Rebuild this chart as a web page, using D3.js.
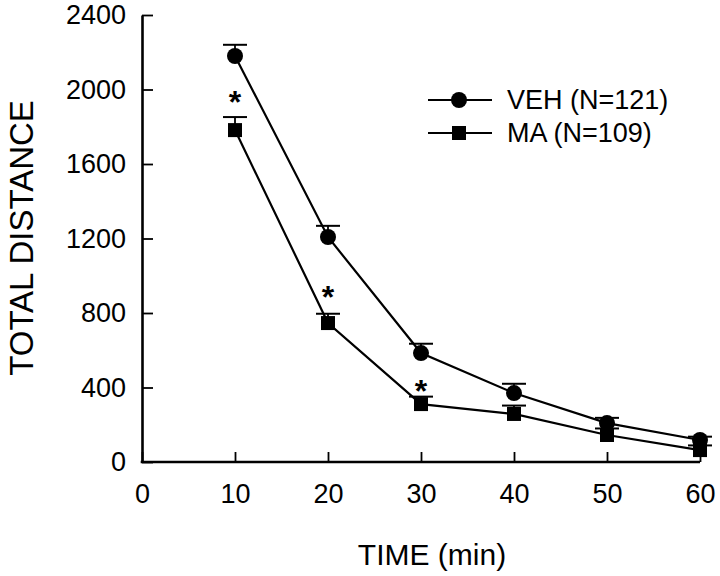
<!DOCTYPE html>
<html><head><meta charset="utf-8">
<script src="https://cdn.jsdelivr.net/npm/d3@7"></script>
<style>body{margin:0;background:#fff}</style>
</head><body>
<svg id="c" width="720" height="576"></svg>
<script>
const times = [10, 20, 30, 40, 50, 60];
const vehMean = [2180, 1208, 585, 370, 209, 118];
const vehSE   = [60, 60, 50, 50, 28, 18];
const maMean  = [1782, 746, 311, 258, 145, 64];
const maSE    = [70, 50, 40, 45, 35, 25];
const sigTimes = [10, 20, 30];
const sigY     = [1981, 934, 430];
const xTicks = [0, 10, 20, 30, 40, 50, 60];
const yTicks = [0, 400, 800, 1200, 1600, 2000, 2400];
const seriesNames = ["VEH (N=121)", "MA (N=109)"];

const svg = d3.select("#c");
const font = "'Liberation Sans', Arial, Helvetica, sans-serif";
const x = d3.scaleLinear().domain([0, 60]).range([142, 700]);
const y = d3.scaleLinear().domain([0, 2400]).range([462, 15]);

const xAxis = d3.axisBottom(x).tickValues(xTicks).tickFormat(d3.format("d")).tickSizeInner(-10).tickSizeOuter(0).tickPadding(22);
const yAxis = d3.axisLeft(y).tickValues(yTicks).tickFormat(d3.format("d")).tickSizeInner(-11).tickSizeOuter(0).tickPadding(20);
const gx = svg.append("g").attr("transform", `translate(0,${y(0)})`).call(xAxis);
const gy = svg.append("g").attr("transform", `translate(${x(0)},0)`).call(yAxis);
[gx, gy].forEach(g => {
  g.select(".domain").attr("stroke", "#000").attr("stroke-width", 2.6);
  g.selectAll(".tick line").attr("stroke", "#000").attr("stroke-width", 1.8);
  g.selectAll(".tick text").attr("fill", "#000").attr("font-family", font).attr("font-size", 27);
});
gy.selectAll(".tick text").attr("dx", "0.15em");
gx.select(".domain").attr("d", `M${x(0)-1.3},0H${x(60)}`);

svg.append("text").attr("x", 432).attr("y", 565).attr("text-anchor", "middle")
  .attr("font-family", font).attr("font-size", 30).text("TIME (min)");
svg.append("text").attr("transform", "translate(33,238) rotate(-90)").attr("text-anchor", "middle")
  .attr("font-family", font).attr("font-size", 33).text("TOTAL DISTANCE");

function drawSeries(mean, se, shape) {
  const data = times.map((t, i) => ({t, m: mean[i], s: se[i]}));
  const g = svg.append("g");
  g.selectAll("line.eb").data(data).join("line")
    .attr("x1", d => x(d.t)).attr("x2", d => x(d.t))
    .attr("y1", d => y(d.m)).attr("y2", d => y(d.m + d.s))
    .attr("stroke", "#000").attr("stroke-width", 1.8);
  g.selectAll("line.cap").data(data).join("line")
    .attr("x1", d => x(d.t) - 12).attr("x2", d => x(d.t) + 12)
    .attr("y1", d => y(d.m + d.s)).attr("y2", d => y(d.m + d.s))
    .attr("stroke", "#000").attr("stroke-width", 2);
  g.append("path").datum(data)
    .attr("d", d3.line().x(d => x(d.t)).y(d => y(d.m)))
    .attr("fill", "none").attr("stroke", "#000").attr("stroke-width", 2.2);
  if (shape === "circle") {
    g.selectAll("circle").data(data).join("circle")
      .attr("cx", d => x(d.t)).attr("cy", d => y(d.m)).attr("r", 8).attr("fill", "#000");
  } else {
    g.selectAll("rect").data(data).join("rect")
      .attr("x", d => x(d.t) - 7).attr("y", d => y(d.m) - 7)
      .attr("width", 14).attr("height", 14).attr("fill", "#000");
  }
}
drawSeries(vehMean, vehSE, "circle");
drawSeries(maMean, maSE, "square");

svg.selectAll("text.sig").data(sigTimes.map((t, i) => ({t, v: sigY[i]}))).join("text")
  .attr("x", d => x(d.t)).attr("y", d => y(d.v) + 20).attr("text-anchor", "middle")
  .attr("font-family", font).attr("font-weight", "bold").attr("font-size", 32).text("*");

const leg = svg.append("g");
const rows = [{name: seriesNames[0], shape: "circle", yy: 100}, {name: seriesNames[1], shape: "square", yy: 133}];
rows.forEach(r => {
  leg.append("line").attr("x1", 428).attr("x2", 492).attr("y1", r.yy).attr("y2", r.yy)
    .attr("stroke", "#000").attr("stroke-width", 2);
  if (r.shape === "circle") leg.append("circle").attr("cx", 459).attr("cy", r.yy).attr("r", 8);
  else leg.append("rect").attr("x", 452).attr("y", r.yy - 7).attr("width", 14).attr("height", 14);
  leg.append("text").attr("x", 507).attr("y", r.yy + 9).attr("font-family", font)
    .attr("font-size", 27).text(r.name);
});
</script>
</body></html>
